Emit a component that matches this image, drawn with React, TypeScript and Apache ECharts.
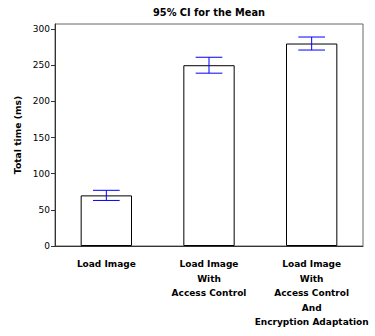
import React, { useEffect, useRef } from "react";
import * as echarts from "echarts";

const categories = [
  "Load Image",
  "Load Image\nWith\nAccess Control",
  "Load Image\nWith\nAccess Control\nAnd\nEncryption Adaptation",
];
const means = [70, 250, 280];
const ciLow = [63, 239, 271];
const ciHigh = [77, 261, 289];
const yTicks = [0, 50, 100, 150, 200, 250, 300];

const FONT = "DejaVu Sans";

export default function App() {
  const ref = useRef<HTMLDivElement>(null);
  useEffect(() => {
    if (!ref.current) return;
    const chart = echarts.init(ref.current, undefined, { renderer: "svg" });
    const errData = categories.map((_, i) => [i, ciLow[i], ciHigh[i]]);
    chart.setOption({
      animation: false,
      textStyle: { fontFamily: FONT },
      title: {
        text: "95% CI for the Mean",
        left: 148,
        top: 2,
        textStyle: { fontFamily: FONT, fontSize: 9.8, fontWeight: "bold", color: "#000" },
      },
      grid: {
        left: 55,
        right: 12,
        top: 24,
        bottom: 90,
        show: true,
        borderColor: "#666",
        borderWidth: 1,
        backgroundColor: "transparent",
      },
      xAxis: {
        type: "category",
        data: categories,
        axisLine: { lineStyle: { color: "#333" } },
        axisTick: { alignWithLabel: true, length: 4, lineStyle: { color: "#333" } },
        axisLabel: {
          interval: 0,
          color: "#000",
          fontFamily: FONT,
          fontSize: 9,
          fontWeight: "bold",
          lineHeight: 14.5,
          margin: 11,
          hideOverlap: false,
        },
      },
      yAxis: {
        type: "value",
        min: 0,
        max: 307,
        interval: 50,
        name: "Total time (ms)",
        nameLocation: "middle",
        nameGap: 33,
        nameTextStyle: { fontFamily: FONT, fontSize: 9.2, fontWeight: "bold", color: "#000" },
        splitLine: { show: false },
        axisLine: { show: true, lineStyle: { color: "#333" } },
        axisTick: { show: true, length: 4, lineStyle: { color: "#333" } },
        axisLabel: {
          color: "#000",
          fontFamily: FONT,
          fontSize: 9,
          showMaxLabel: false,
          margin: 5,
          formatter: (v: number) => (yTicks.includes(v) ? String(v) : ""),
        },
      },
      series: [
        {
          type: "bar",
          data: means,
          barWidth: "50%",
          itemStyle: { color: "#fff", borderColor: "#000", borderWidth: 1 },
        },
        {
          type: "custom",
          data: errData,
          renderItem: (params: any, api: any) => {
            const x = api.value(0);
            const lo = api.coord([x, api.value(1)]);
            const hi = api.coord([x, api.value(2)]);
            const half = api.size([1, 0])[0] * 0.13;
            const style = { stroke: "#0000ff", lineWidth: 1 };
            return {
              type: "group",
              children: [
                { type: "line", shape: { x1: hi[0], y1: hi[1], x2: lo[0], y2: lo[1] }, style },
                { type: "line", shape: { x1: hi[0] - half, y1: hi[1], x2: hi[0] + half, y2: hi[1] }, style },
                { type: "line", shape: { x1: lo[0] - half, y1: lo[1], x2: lo[0] + half, y2: lo[1] }, style },
              ],
            };
          },
          z: 5,
        },
      ],
    });
    return () => chart.dispose();
  }, []);
  return (
    <div
      ref={ref}
      style={{ position: "absolute", left: 0, top: 0, width: 375, height: 336 }}
    />
  );
}
